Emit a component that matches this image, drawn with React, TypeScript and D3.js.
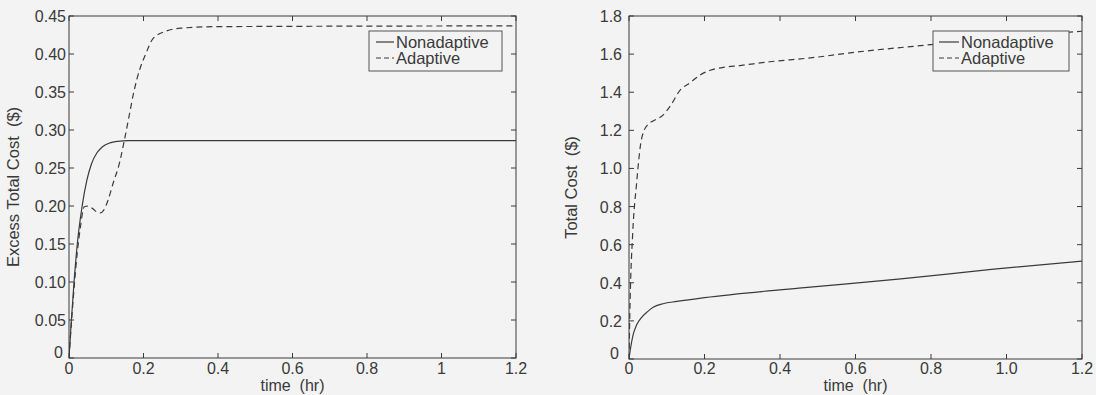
import React from "react";
import * as d3 from "d3";

// Left panel: Excess Total Cost
const leftNonT = [0, 0.0064, 0.014, 0.0225, 0.035, 0.048, 0.06, 0.075, 0.09, 0.11, 0.13, 0.16, 0.2, 1.2];
const leftNonV = [0, 0.05, 0.103, 0.151, 0.199, 0.234, 0.255, 0.27, 0.278, 0.283, 0.285, 0.286, 0.286, 0.286];
const leftAdaT = [0, 0.007, 0.015, 0.0225, 0.03, 0.041, 0.052, 0.065, 0.075, 0.084, 0.095, 0.105, 0.121, 0.132, 0.148, 0.16, 0.174, 0.19, 0.206, 0.225, 0.26, 0.3, 0.4, 1.2];
const leftAdaV = [0, 0.05, 0.1, 0.14, 0.17, 0.199, 0.2, 0.196, 0.192, 0.191, 0.196, 0.208, 0.234, 0.25, 0.285, 0.315, 0.35, 0.38, 0.4, 0.42, 0.43, 0.434, 0.436, 0.437];

// Right panel: Total Cost
const rightNonT = [0, 0.004, 0.011, 0.02, 0.034, 0.05, 0.064, 0.09, 0.127, 0.2, 0.45, 0.72, 0.96, 1.2];
const rightNonV = [0, 0.055, 0.128, 0.178, 0.22, 0.25, 0.271, 0.29, 0.302, 0.322, 0.372, 0.42, 0.47, 0.514];
const rightAdaT = [0, 0.003, 0.0098, 0.02, 0.031, 0.04, 0.05, 0.07, 0.09, 0.11, 0.135, 0.162, 0.188, 0.215, 0.25, 0.294, 0.373, 0.48, 0.6, 0.8, 1.0, 1.2];
const rightAdaV = [0, 0.31, 0.66, 0.92, 1.13, 1.2, 1.23, 1.255, 1.28, 1.33, 1.41, 1.45, 1.49, 1.515, 1.53, 1.54, 1.56, 1.58, 1.61, 1.65, 1.69, 1.72];

const xTicks = [0, 0.2, 0.4, 0.6, 0.8, 1.0, 1.2];
const leftXLabels = ["0", "0.2", "0.4", "0.6", "0.8", "1", "1.2"];
const rightXLabels = ["0", "0.2", "0.4", "0.6", "0.8", "1.0", "1.2"];
const leftYTicks = [0, 0.05, 0.1, 0.15, 0.2, 0.25, 0.3, 0.35, 0.4, 0.45];
const leftYLabels = ["0", "0.05", "0.10", "0.15", "0.20", "0.25", "0.30", "0.35", "0.40", "0.45"];
const rightYTicks = [0, 0.2, 0.4, 0.6, 0.8, 1.0, 1.2, 1.4, 1.6, 1.8];
const rightYLabels = ["0", "0.2", "0.4", "0.6", "0.8", "1.0", "1.2", "1.4", "1.6", "1.8"];
const seriesNames = ["Nonadaptive", "Adaptive"];

const BG = "#f3f3f3";
const INK = "#3a3a3a";
const FONT = "'Liberation Sans', Arial, Helvetica, sans-serif";

type PanelProps = {
  id: string;
  x0: number; x1: number; y0: number; y1: number;
  yMax: number;
  yTicks: number[]; yLabels: string[]; xLabels: string[];
  yTitle: string;
  nonT: number[]; nonV: number[]; adaT: number[]; adaV: number[];
  yLabGap: number;
  titleX: number;
  legend: { left: number; right: number; top: number; bottom: number; sx0: number; sx1: number; tx: number };
};

function Panel(p: PanelProps) {
  const x = d3.scaleLinear().domain([0, 1.2]).range([p.x0, p.x1]);
  const y = d3.scaleLinear().domain([0, p.yMax]).range([p.y0, p.y1]);
  const line = d3
    .line<[number, number]>()
    .x((d) => x(d[0]))
    .y((d) => y(d[1]))
    .curve(d3.curveMonotoneX);
  const non = line(p.nonT.map((t, i) => [t, p.nonV[i]]) as [number, number][]) || "";
  const ada = line(p.adaT.map((t, i) => [t, p.adaV[i]]) as [number, number][]) || "";
  const tl = 5;
  const L = p.legend;
  return (
    <g>
      <defs>
        <clipPath id={p.id + "clip"}>
          <rect x={p.x0} y={p.y1} width={p.x1 - p.x0} height={p.y0 - p.y1} />
        </clipPath>
      </defs>
      {xTicks.map((t, i) => (
        <g key={"xt" + i}>
          <line x1={x(t)} x2={x(t)} y1={p.y0} y2={p.y0 - tl} stroke={INK} strokeWidth={1} />
          <line x1={x(t)} x2={x(t)} y1={p.y1} y2={p.y1 + tl} stroke={INK} strokeWidth={1} />
          <text x={x(t)} y={374} textAnchor="middle" fontSize={16} fill={INK} fontFamily={FONT}>
            {p.xLabels[i]}
          </text>
        </g>
      ))}
      {p.yTicks.map((t, i) => (
        <g key={"yt" + i}>
          <line x1={p.x0} x2={p.x0 + tl} y1={y(t)} y2={y(t)} stroke={INK} strokeWidth={1} />
          <line x1={p.x1} x2={p.x1 - tl} y1={y(t)} y2={y(t)} stroke={INK} strokeWidth={1} />
          <text
            x={p.x0 - p.yLabGap - (i === 0 ? 3 : 0)}
            y={y(t) + (i === 0 ? 0 : 6)}
            textAnchor="end"
            fontSize={16}
            fill={INK}
            fontFamily={FONT}
          >
            {p.yLabels[i]}
          </text>
        </g>
      ))}
      <g clipPath={`url(#${p.id}clip)`}>
        <path d={non} fill="none" stroke={INK} strokeWidth={1.2} />
        <path d={ada} fill="none" stroke={INK} strokeWidth={1.2} strokeDasharray="6,4" />
      </g>
      <rect x={p.x0} y={p.y1} width={p.x1 - p.x0} height={p.y0 - p.y1} fill="none" stroke={INK} strokeWidth={1} />
      <text
        x={(p.x0 + p.x1) / 2}
        y={391}
        textAnchor="middle"
        fontSize={16}
        fill={INK}
        fontFamily={FONT}
        style={{ whiteSpace: "pre" }}
      >
        {"time  (hr)"}
      </text>
      <text
        transform={`translate(${p.titleX},${(p.y0 + p.y1) / 2}) rotate(-90)`}
        textAnchor="middle"
        fontSize={16.5}
        fill={INK}
        fontFamily={FONT}
        style={{ whiteSpace: "pre" }}
      >
        {p.yTitle}
      </text>
      <rect x={L.left} y={L.top} width={L.right - L.left} height={L.bottom - L.top} fill={BG} stroke="#555" strokeWidth={1} />
      <line x1={L.sx0} x2={L.sx1} y1={42} y2={42} stroke={INK} strokeWidth={1.2} />
      <line x1={L.sx0} x2={L.sx1} y1={58} y2={58} stroke={INK} strokeWidth={1.2} strokeDasharray="5,3" />
      <text x={L.tx} y={47.5} fontSize={16.5} fill={INK} fontFamily={FONT}>
        {seriesNames[0]}
      </text>
      <text x={L.tx} y={63.5} fontSize={16.5} fill={INK} fontFamily={FONT}>
        {seriesNames[1]}
      </text>
    </g>
  );
}

export default function App() {
  return (
    <svg
      width={1096}
      height={395}
      style={{ position: "absolute", left: 0, top: 0, background: BG }}
    >
      <rect x={0} y={0} width={1096} height={395} fill={BG} />
      <Panel
        id="L"
        x0={69} x1={516} y0={358} y1={16}
        yMax={0.45}
        yTicks={leftYTicks} yLabels={leftYLabels} xLabels={leftXLabels}
        yTitle={"Excess Total Cost  ($)"}
        nonT={leftNonT} nonV={leftNonV} adaT={leftAdaT} adaV={leftAdaV}
        yLabGap={3}
        titleX={19}
        legend={{ left: 369, right: 502, top: 31, bottom: 71, sx0: 376, sx1: 394, tx: 396 }}
      />
      <Panel
        id="R"
        x0={629} x1={1082} y0={359} y1={16}
        yMax={1.8}
        yTicks={rightYTicks} yLabels={rightYLabels} xLabels={rightXLabels}
        yTitle={"Total Cost  ($)"}
        nonT={rightNonT} nonV={rightNonV} adaT={rightAdaT} adaV={rightAdaV}
        yLabGap={7}
        titleX={577}
        legend={{ left: 933, right: 1069, top: 31, bottom: 71, sx0: 939, sx1: 959, tx: 961 }}
      />
    </svg>
  );
}
